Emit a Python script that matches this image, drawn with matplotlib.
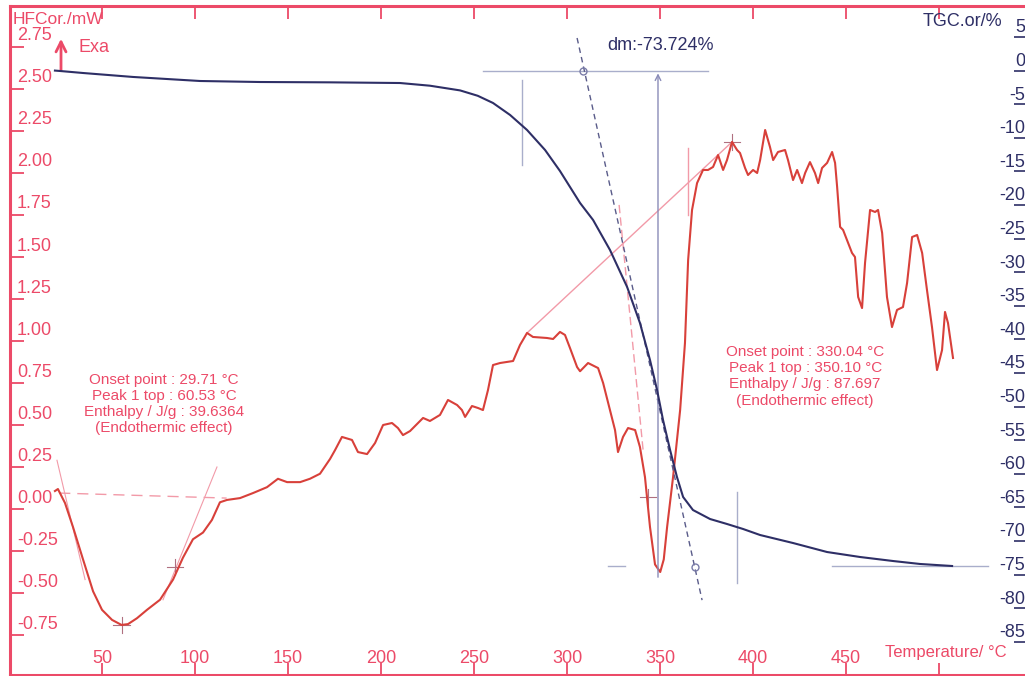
import matplotlib
matplotlib.use("Agg")
import matplotlib.pyplot as plt
from matplotlib import transforms

plt.rcParams['font.family'] = ['Liberation Sans', 'DejaVu Sans']

RED = '#ec4a68'
CURVE = '#d8403a'
NAVY = '#2e2f66'
PINK = '#f29aa8'
GREY = '#a9aecb'

# DSC heat flow (mW) vs temperature
temp_dsc = [24.7, 26.3, 30.1, 34.4, 39.8, 45.2, 50.0, 55.4, 60.5, 64.0, 68.8, 74.2,
            81.2, 88.2, 93.5, 98.9, 104.3, 109.1, 113.4, 117.2, 124.2, 131.2, 138.7,
            144.6, 149.5, 156.5, 161.8, 167.2, 172.6, 175.3, 179.0, 184.4, 187.6,
            192.5, 196.8, 201.1, 205.9, 209.1, 211.8, 215.6, 222.6, 226.3, 231.7,
            236.0, 240.9, 243.5, 245.2, 248.9, 252.2, 254.8, 257.5, 260.2, 264.0,
            271.0, 274.7, 278.5, 281.7, 289.2, 292.5, 296.2, 298.9, 301.6, 305.4,
            307.0, 311.3, 316.7, 319.4, 323.1, 325.8, 327.4, 330.1, 332.8, 336.6,
            339.2, 341.9, 344.6, 347.3, 350.1, 352.0, 353.8, 357.0, 360.8, 363.4,
            365.1, 367.2, 369.9, 373.1, 375.8, 378.5, 381.2, 383.9, 386.0, 388.7,
            391.4, 393.0, 395.7, 397.3, 400.0, 402.2, 403.8, 406.5, 409.1, 410.8,
            413.4, 417.2, 418.8, 421.5, 423.7, 426.3, 428.0, 430.6, 433.3, 435.0,
            437.1, 439.8, 442.5, 444.1, 445.2, 446.8, 448.4, 451.1, 453.2, 454.8,
            456.5, 458.6, 460.2, 462.9, 465.6, 467.2, 469.4, 472.0, 474.7, 477.4,
            480.6, 482.8, 485.5, 488.2, 490.9, 493.5, 496.2, 498.9, 501.6, 503.2,
            504.8, 507.5]
heat_flow = [0.107, 0.119, 0.036, -0.107, -0.30, -0.49, -0.60, -0.66, -0.69, -0.685,
             -0.65, -0.60, -0.54, -0.42, -0.29, -0.18, -0.14, -0.065, 0.04, 0.054,
             0.065, 0.095, 0.13, 0.18, 0.16, 0.16, 0.18, 0.21, 0.298, 0.351, 0.429,
             0.411, 0.339, 0.327, 0.393, 0.50, 0.512, 0.482, 0.44, 0.464, 0.542,
             0.524, 0.56, 0.649, 0.619, 0.589, 0.548, 0.613, 0.601, 0.589, 0.708,
             0.857, 0.869, 0.881, 0.976, 1.048, 1.024, 1.018, 1.012, 1.054, 1.036,
             0.958, 0.845, 0.82, 0.869, 0.839, 0.75, 0.589, 0.47, 0.339, 0.429,
             0.482, 0.47, 0.369, 0.19, -0.107, -0.33, -0.375, -0.30, -0.107, 0.19,
             0.589, 0.988, 1.482, 1.78, 1.94, 2.018, 2.018, 2.036, 2.107, 2.018,
             2.077, 2.185, 2.137, 2.119, 2.03, 1.988, 2.018, 2.0, 2.077, 2.256,
             2.155, 2.077, 2.125, 2.137, 2.077, 1.958, 2.018, 1.94, 2.0, 2.065, 2.0,
             1.94, 2.03, 2.06, 2.125, 2.06, 1.917, 1.679, 1.661, 1.583, 1.524, 1.5,
             1.262, 1.196, 1.464, 1.78, 1.768, 1.78, 1.643, 1.262, 1.083, 1.185,
             1.202, 1.345, 1.619, 1.631, 1.524, 1.304, 1.083, 0.827, 0.946, 1.173,
             1.107, 0.899]

# TG mass change (%) vs temperature
temp_tg = [24.7, 27.4, 39.8, 66.7, 102.7, 134.9, 172.6, 210.2, 226.3, 242.5, 252.0,
           260.2, 269.4, 278.5, 288.2, 296.2, 307.0, 314.0, 323.1, 332.3, 339.2,
           344.6, 348.4, 351.6, 355.4, 359.1, 362.4, 367.7, 376.9, 386.0, 394.6,
           403.8, 421.5, 439.8, 457.5, 475.3, 489.8, 507.0]
mass = [0.0, -0.06, -0.36, -0.95, -1.55, -1.70, -1.75, -1.85, -2.25, -2.95, -3.75,
        -4.82, -6.61, -8.84, -11.82, -14.94, -19.70, -22.23, -26.70, -32.20, -37.56,
        -43.07, -47.53, -51.99, -56.46, -60.48, -63.45, -65.39, -66.73, -67.47,
        -68.21, -69.11, -70.30, -71.64, -72.38, -72.98, -73.42, -73.72]

x_ticks = [50, 100, 150, 200, 250, 300, 350, 400, 450, 500]
x_labels = ['50', '100', '150', '200', '250', '300', '350', '400', '450']
hf_ticks = [2.75, 2.50, 2.25, 2.00, 1.75, 1.50, 1.25, 1.00, 0.75, 0.50, 0.25, 0.00,
            -0.25, -0.50, -0.75]
tg_ticks = [5, 0, -5, -10, -15, -20, -25, -30, -35, -40, -45, -50, -55, -60, -65,
            -70, -75, -80, -85]

fig = plt.figure(figsize=(10.25, 6.76), dpi=100)
ax = fig.add_axes([10 / 1025, 1 / 676, 1015 / 1025, 669 / 676])
ax.set_xlim(0.54, 546.2)
ax.set_ylim(-0.988, 2.994)
ax2 = ax.twinx()
ax2.set_ylim(-89.94, 9.61)

for side in ['left', 'top', 'bottom']:
    ax.spines[side].set_color(RED)
    ax.spines[side].set_linewidth(2.2)
ax.spines['right'].set_visible(False)
for side in ax2.spines:
    ax2.spines[side].set_visible(False)

ax.set_xticks(x_ticks)
ax.set_yticks(hf_ticks)
ax.tick_params(axis='x', direction='in', length=9, width=1.3, color=RED,
               top=True, labelbottom=False)
ax.tick_params(axis='y', direction='in', length=10, width=1.3, color=RED,
               labelleft=False)
ax2.set_yticks(tg_ticks)
ax2.tick_params(axis='y', direction='in', length=8, width=1.2, color=NAVY,
                labelright=False)

# tick labels sit inside the frame
xlab_tr = transforms.blended_transform_factory(ax.transData, ax.transAxes)
for t, s in zip(x_ticks, x_labels):
    ax.text(t, 0.0254, s, transform=xlab_tr, ha='center', va='center',
            color=RED, fontsize=13)
ylab_tr = transforms.offset_copy(
    transforms.blended_transform_factory(ax.transAxes, ax.transData),
    fig=fig, y=11, units='dots')
for v in hf_ticks:
    ax.text(0.0069, v, '%.2f' % v, transform=ylab_tr, ha='left', va='center',
            color=RED, fontsize=13)
tglab_tr = transforms.offset_copy(
    transforms.blended_transform_factory(ax2.transAxes, ax2.transData),
    fig=fig, y=9, units='dots')
for v in tg_ticks:
    ax2.text(1.0, v, str(v), transform=tglab_tr, ha='right', va='center',
             color=NAVY, fontsize=13, clip_on=False)

# construction lines of the peak evaluation (DSC)
ax.plot([27, 117], [0.095, 0.065], color=PINK, lw=1, ls=(0, (8, 5)))
ax.plot([25.8, 40.9], [0.29, -0.42], color=PINK, lw=0.8)
ax.plot([82.8, 111.8], [-0.54, 0.25], color=PINK, lw=0.8)
ax.plot([278.5, 388.7], [1.048, 2.185], color=PINK, lw=1)
ax.plot([328.0, 340.9], [1.81, 0.35], color=PINK, lw=1, ls=(0, (6, 3)))
ax.plot([365.1, 365.1], [2.15, 1.75], color=PINK, lw=1)
for cx, cy in [(60.5, -0.69), (89.2, -0.345), (388.7, 2.185), (343.5, 0.07)]:
    ax.plot([cx - 4.5, cx + 4.5], [cy, cy], color='#b07080', lw=0.8)
    ax.plot([cx, cx], [cy - 0.05, cy + 0.05], color='#b07080', lw=0.8)

# construction lines of the mass step (TG)
ax2.plot([254.8, 375.8], [0, 0], color=GREY, lw=1)
ax2.plot([322.0, 331.2], [-73.72, -73.72], color=GREY, lw=1)
ax2.plot([442.5, 526.3], [-73.72, -73.72], color=GREY, lw=1)
ax2.plot([275.8, 275.8], [-1.4, -14.0], color=GREY, lw=1)
ax2.plot([391.4, 391.4], [-62.7, -76.3], color=GREY, lw=1)
ax2.plot([305.4, 372.6], [4.85, -78.8], color='#5a5c8a', lw=1, ls=(0, (4, 3)))
ax2.plot([308.6, 368.8], [0, -73.9], 'o', mfc='none', mec='#7a7ca8', ms=5, mew=1)
ax2.annotate('', xy=(348.9, 0), xytext=(348.9, -75.8),
             arrowprops=dict(arrowstyle='->', color='#8a8cb8', lw=1))

ax.plot(temp_dsc, heat_flow, color=CURVE, lw=1.5, zorder=5)
ax2.plot(temp_tg, mass, color=NAVY, lw=1.5, zorder=5)

ax.text(83.3, 0.625, 'Onset point : 29.71 \u00b0C\nPeak 1 top : 60.53 \u00b0C\n'
        'Enthalpy / J/g : 39.6364\n(Endothermic effect)',
        ha='center', va='center', color=RED, fontsize=11, linespacing=1.2)
ax.text(428, 0.79, 'Onset point : 330.04 \u00b0C\nPeak 1 top : 350.10 \u00b0C\n'
        'Enthalpy / J/g : 87.697\n(Endothermic effect)',
        ha='center', va='center', color=RED, fontsize=11, linespacing=1.2)

fig.text(660 / 1025, 1 - 45 / 676, 'dm:-73.724%', ha='center', va='center',
         color=NAVY, fontsize=13)
fig.text(13 / 1025, 1 - 19 / 676, 'HFCor./mW', ha='left', va='center',
         color=RED, fontsize=12.5)
fig.text(78 / 1025, 1 - 47 / 676, 'Exa', ha='left', va='center',
         color=RED, fontsize=13)
ax.annotate('', xy=(61, 676 - 36), xytext=(61, 676 - 73),
            xycoords='figure pixels', textcoords='figure pixels',
            arrowprops=dict(arrowstyle='->', color=RED, lw=2, mutation_scale=18))
fig.text(923 / 1025, 1 - 22 / 676, 'TGC.or/%', ha='left', va='center',
         color=NAVY, fontsize=13)
fig.text(885 / 1025, 1 - 653 / 676, 'Temperature/ \u00b0C', ha='left',
         va='center', color=RED, fontsize=12)

fig.savefig('out.png', dpi=100)
